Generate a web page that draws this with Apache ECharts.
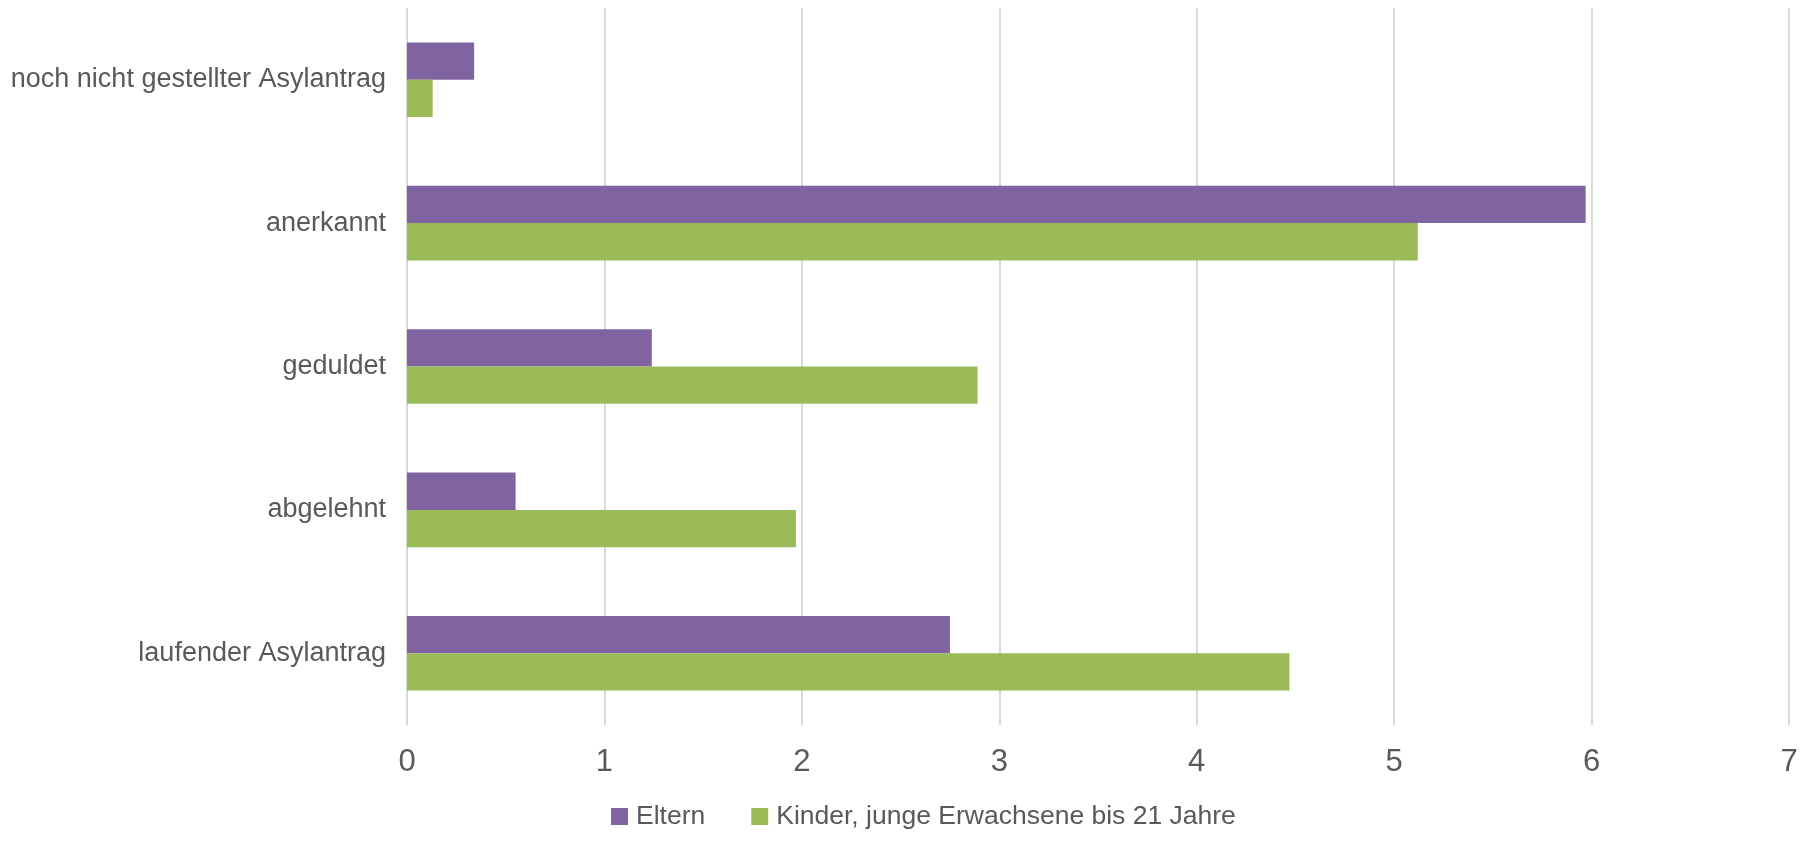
<!DOCTYPE html>
<html><head><meta charset="utf-8">
<script src="https://cdn.jsdelivr.net/npm/echarts@6/dist/echarts.min.js"></script>
<style>html,body{margin:0;padding:0;background:#fff}#c{width:1807px;height:842px}</style>
</head><body><div id="c"></div>
<script>
// categories bottom-to-top (ECharts category y axis starts at bottom)
var categories = ['laufender Asylantrag', 'abgelehnt', 'geduldet', 'anerkannt', 'noch nicht gestellter Asylantrag'];
var eltern = [2.75, 0.55, 1.24, 5.97, 0.34];
var kinder = [4.47, 1.97, 2.89, 5.12, 0.13];
var seriesNames = ['Eltern', 'Kinder, junge Erwachsene bis 21 Jahre'];
var xTicks = [0, 1, 2, 3, 4, 5, 6, 7];

var font = '"Liberation Sans Narrow", "Arial Narrow", "Liberation Sans", Arial, sans-serif';
var chart = echarts.init(document.getElementById('c'));
chart.setOption({
  animation: false,
  textStyle: { fontFamily: font },
  grid: { left: 407, right: 18, top: 8, bottom: 117, containLabel: false, outerBoundsMode: 'none' },
  legend: {
    data: seriesNames,
    bottom: 7,
    left: 606,
    itemWidth: 17, itemHeight: 17, itemGap: 46,
    icon: 'rect',
    textStyle: { color: '#595959', fontSize: 26.5, fontFamily: font, padding: [0, 0, 0, 3] }
  },
  xAxis: {
    type: 'value',
    min: xTicks[0], max: xTicks[xTicks.length - 1], interval: 1,
    axisLine: { show: false },
    axisTick: { show: false },
    splitLine: { show: true, lineStyle: { color: '#d9d9d9', width: 2 } },
    axisLabel: { color: '#595959', fontSize: 31, margin: 22, fontFamily: font }
  },
  yAxis: {
    type: 'category',
    data: categories,
    axisLine: { show: false },
    axisTick: { show: false },
    axisLabel: { color: '#595959', fontSize: 27, margin: 21, fontFamily: font }
  },
  series: [
    { name: seriesNames[0], type: 'bar', data: eltern, itemStyle: { color: '#8064A2' }, barGap: '0%', barCategoryGap: '48%' },
    { name: seriesNames[1], type: 'bar', data: kinder, itemStyle: { color: '#9BBB59' }, barGap: '0%', barCategoryGap: '48%' }
  ]
});
</script></body></html>
